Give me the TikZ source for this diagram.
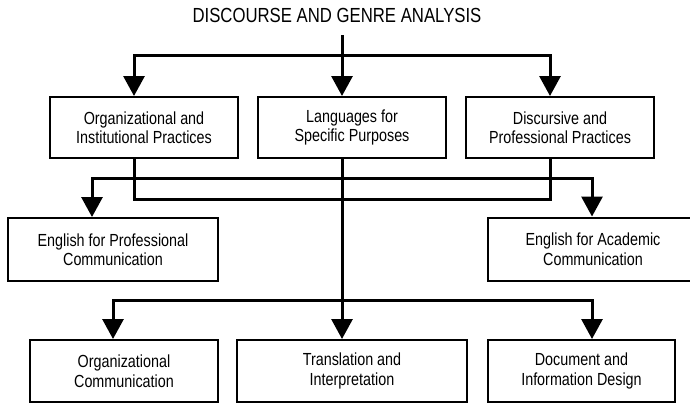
\documentclass[tikz,border=0pt]{standalone}
\usepackage{fontspec}
\setmainfont[FakeStretch=0.82]{Liberation Sans}
\usetikzlibrary{arrows.meta,calc}

\tikzset{
  box/.style={draw, line width=2bp, minimum width=188bp, minimum height=61bp,
    inner sep=0pt, align=center, font=\fontsize{17.5bp}{19.5bp}\selectfont},
  heading/.style={inner sep=0pt, font=\fontsize{20.4bp}{22bp}\selectfont},
  line/.style={line width=3bp},
  link/.style={line width=3bp, -{Triangle[length=20bp,width=21bp]}}
}

\begin{document}
\begin{tikzpicture}[x=1bp, y=-1bp]
    \useasboundingbox (0,0) rectangle (690,403);

    % Title
    \node[heading, anchor=base] (title) at (337,22) {DISCOURSE AND GENRE ANALYSIS};

    % First row
    \node[box] (orgpr) at (144,127.5) {Organizational and\\Institutional Practices};
    \node[box] (lsp)   at (352,127.5) {Languages for\\Specific Purposes};
    \node[box] (dispr) at (560,127.5) {Discursive and\\Professional Practices};

    % Second row
    \node[box, minimum width=210bp, minimum height=63bp] (epc) at (113,249.5) {English for Professional\\Communication};
    \node[box, minimum width=210bp, minimum height=63bp] (eac) at (593,249) {English for Academic\\Communication};

    % Third row
    \node[box, minimum height=62bp] (oc)  at (124,371) {Organizational\\Communication};
    \node[box, minimum width=230bp, minimum height=62bp] (ti) at (352,371) {Translation and\\Interpretation};
    \node[box, minimum width=187bp, minimum height=62bp] (did) at (581.5,371) {Document and\\Information Design};

    % Split points
    \coordinate (split1) at (342,55);
    \coordinate (split2) at (342,178);
    \coordinate (join)   at (342,199);
    \coordinate (split3) at (342,300);

    % Title to first row
    \draw[line] ($(title.south)+(5,13)$) -- (split1);
    \foreach \n in {orgpr, lsp, dispr}
        \draw[link] (split1) -| ([xshift=-10bp]\n.north);

    % First row to second row
    \draw[line] ([xshift=-10bp]orgpr.south) |- (join) -| ([xshift=-10bp]dispr.south);
    \draw[link] (split2) -| ([xshift=-21bp]epc.north);
    \draw[link] (split2) -| ([xshift=-1bp]eac.north);

    % Languages for specific purposes to third row
    \draw[link] ([xshift=-10bp]lsp.south) -- ([xshift=-10bp]ti.north);
    \draw[link] (split3) -| ([xshift=-11bp]oc.north);
    \draw[link] (split3) -| ([xshift=10.5bp]did.north);
\end{tikzpicture}
\end{document}
